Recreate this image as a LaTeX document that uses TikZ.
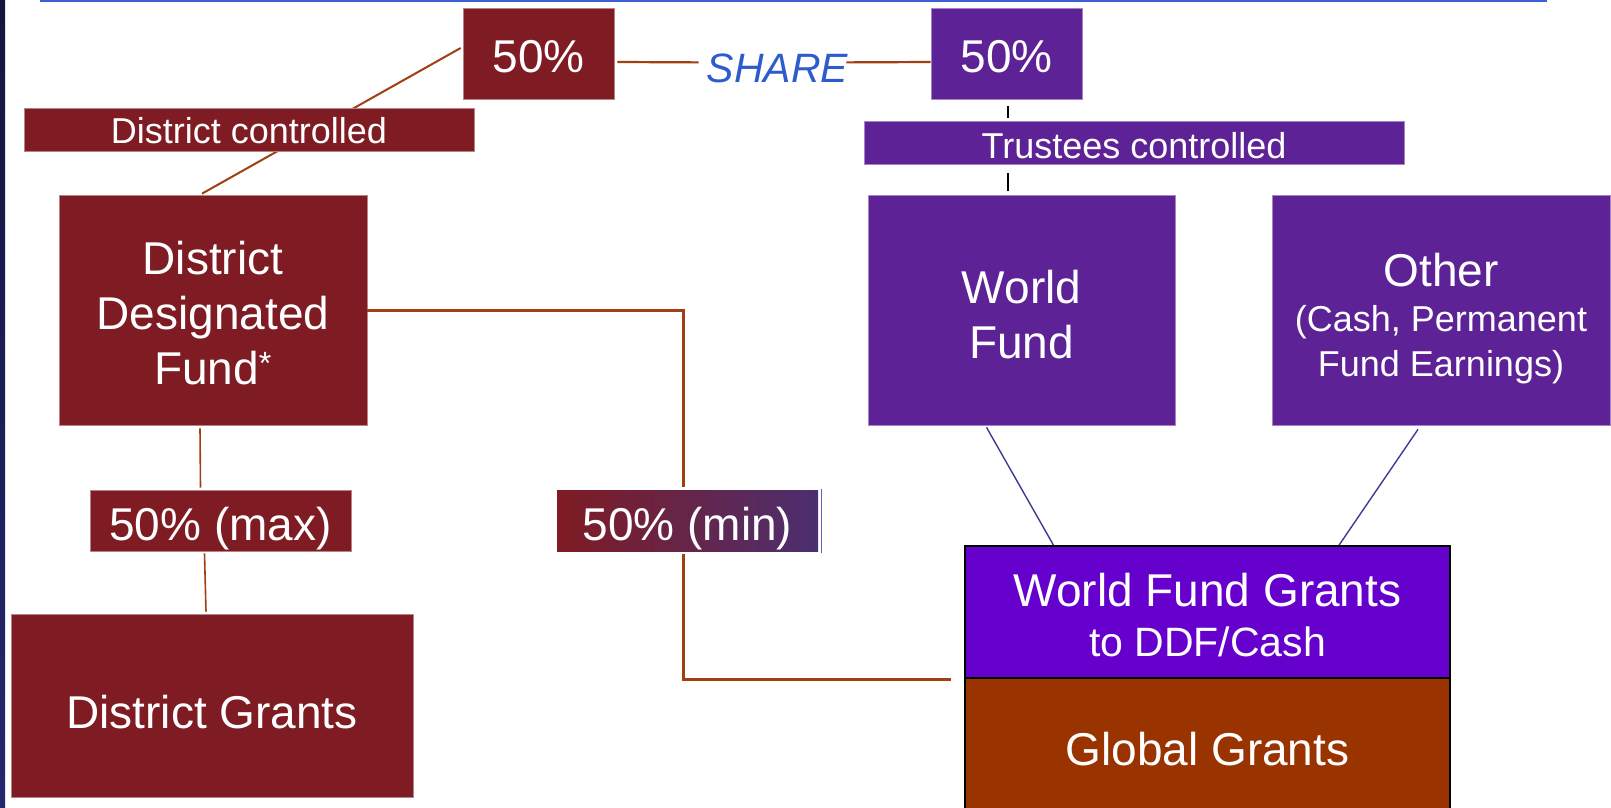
\documentclass[tikz,border=0pt]{standalone}
\usepackage{fontspec}
\setmainfont{Liberation Sans}
\usetikzlibrary{calc,backgrounds}
\definecolor{dred}{HTML}{7F1B23}
\definecolor{dpurp}{HTML}{5E2297}
\definecolor{wfgc}{HTML}{6600CC}
\definecolor{ggc}{HTML}{993300}
\definecolor{brn}{HTML}{A03E14}
\definecolor{navyl}{HTML}{3C3C96}
\definecolor{sharec}{HTML}{2E5CCC}
\definecolor{topl}{HTML}{3A62D6}
\definecolor{stripT}{HTML}{131540}
\definecolor{stripB}{HTML}{25276F}
\definecolor{minR}{HTML}{4B2F70}
\newcommand\bigf{\fontsize{46}{55}\selectfont}
\newcommand\smallf{\fontsize{36}{45}\selectfont}
\newcommand\midf{\fontsize{41}{50}\selectfont}
\begin{document}
\begin{tikzpicture}[x=1pt,y=-1pt,
  boxbase/.style={rectangle, inner sep=0pt, text=white, align=center, text depth=0pt},
  redbox/.style={boxbase, fill=dred, draw=dred!55!white, line width=0.7pt},
  purpbox/.style={boxbase, fill=dpurp, draw=dpurp!55!white, line width=0.7pt},
  blkbox/.style={boxbase, draw=black, line width=1.6pt},
  brline/.style={brn, line width=1.6pt},
  nvline/.style={navyl, line width=1.4pt}]
\useasboundingbox (0,0) rectangle (1611,808);
\begin{pgfonlayer}{background}
\fill[white] (0,0) rectangle (1611,808);
\end{pgfonlayer}
\begin{scope}
\clip (0,0) rectangle (1611,808);
\shade[top color=stripT, bottom color=stripB] (0,0) rectangle (5,808);
\draw[topl, line width=2.5pt] (40,1) -- (1547,1);

% nodes
\node[redbox, font=\bigf, text height=38pt, minimum width=151pt, minimum height=91pt] (A) at (538.5,53.5) {50\%};
\node[purpbox, font=\bigf, text height=38pt, minimum width=151pt, minimum height=91pt] (B) at (1006.5,53.5) {50\%};
\node[anchor=base, inner sep=0pt, text=sharec, font=\fontsize{41}{48}\selectfont\itshape] (share) at (777.5,82.5) {SHARE};
\node[redbox, font=\smallf, text height=28pt, minimum width=450pt, minimum height=43pt] (dc) at (249,129.5) {District controlled};
\node[purpbox, font=\smallf, text height=32pt, minimum width=540pt, minimum height=43pt] (trust) at (1134,142.5) {Trustees controlled};
\node[redbox, font=\bigf, text height=148pt, minimum width=308pt, minimum height=230pt] (ddf) at (213,310) {District\\Designated\\Fund\textsuperscript{*}};
\node[purpbox, font=\bigf, text height=96pt, minimum width=307pt, minimum height=230pt] (wf) at (1021.5,310) {World\\Fund};
\node[purpbox, font=\smallf, text height=132pt, minimum width=338pt, minimum height=230pt] (other) at (1441,310) {{\bigf Other}\\(Cash, Permanent\\Fund Earnings)};
\node[redbox, font=\bigf, text height=40pt, minimum width=261pt, minimum height=61pt] (max) at (220.5,520.5) {50\% (max)};
\node[boxbase, font=\bigf, text height=40pt, minimum width=261pt, minimum height=61pt, left color=dred, right color=minR] (min) at (687.5,520.5) {50\% (min)};
\node[redbox, font=\bigf, text height=45pt, minimum width=402pt, minimum height=183pt] (dg) at (212,705.5) {District Grants};
\node[blkbox, fill=wfgc, font=\midf, text height=89pt, minimum width=485pt, minimum height=132pt] (wfg) at (1207.5,612) {{\bigf World Fund Grants}\\to DDF/Cash};
\node[blkbox, fill=ggc, font=\bigf, text height=37pt, minimum width=485pt, minimum height=138pt] (gg) at (1207.5,747) {Global Grants};

% connectors
\begin{pgfonlayer}{background}
\draw[brn, line width=2pt] ($(A.west)+(-2,-5.5)$) -- ($(ddf.north)+(-11,-1)$);
\end{pgfonlayer}
\draw[brn, line width=2.2pt] ($(A.east)+(3,8.5)$) -- ($(share.west)+(-8,-6)$);
\draw[brn, line width=2.2pt] ($(share.east)+(-2,-6)$) -- ($(B.west)+(0,8.5)$);
\draw[black, line width=1.8pt] ($(B.south)+(1.5,7)$) -- ($(trust.north -| B.south)+(1.5,-3)$);
\draw[black, line width=1.8pt] ($(trust.south -| B.south)+(1.5,9)$) -- ($(wf.north -| B.south)+(1.5,-4)$);
\draw[brline] ($(ddf.south)+(-13,3)$) -- ($(max.north)+(-20,-2)$);
\draw[brline] ($(max.south)+(-16,2)$) -- ($(dg.north)+(-6,-2)$);
\coordinate (c1) at (683,310);
\coordinate (c2) at (683,679);
\coordinate (c3) at (951,679);
\draw[brn, line width=3pt] (ddf.east) -- (c1) -- ($(c1 |- min.north)+(0,-3)$);
\draw[brn, line width=3pt] ($(c1 |- min.south)+(0,3)$) -- (c2) -- (c3);
\draw[navyl!80, line width=1pt] ($(min.north east)+(3,-1)$) -- ($(min.south east)+(3,2)$);
\draw[nvline] ($(wf.south)+(-35,2)$) -- ($(wfg.north)+(-154,0)$);
\draw[nvline] ($(other.south)+(-23,4)$) -- ($(wfg.north)+(131.5,0)$);
\end{scope}
\end{tikzpicture}
\end{document}
